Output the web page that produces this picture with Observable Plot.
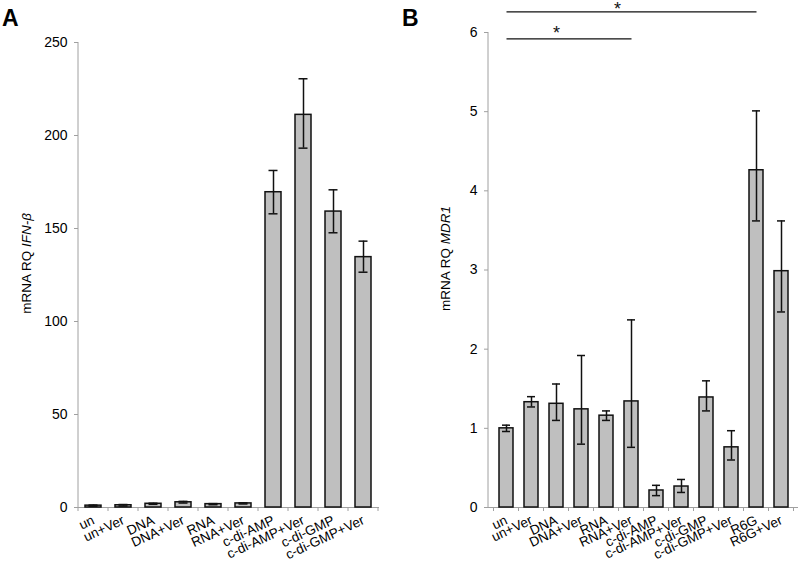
<!DOCTYPE html>
<html><head><meta charset="utf-8">
<script src="https://cdn.jsdelivr.net/npm/d3@7"></script>
<script src="https://cdn.jsdelivr.net/npm/@observablehq/plot@0.6"></script>
<style>
body{margin:0;background:#fff;}
#wrap{position:relative;width:800px;height:572px;overflow:hidden;}
#wrap svg{position:absolute;top:0;}
</style></head><body><div id="wrap"></div>
<script>
const FONT = '"Liberation Sans", Arial, sans-serif';

// Panel A: IFN-beta
const catsA = ["un","un+Ver","DNA","DNA+Ver","RNA","RNA+Ver","c-di-AMP","c-di-AMP+Ver","c-di-GMP","c-di-GMP+Ver"];
const valA  = [1.0, 1.2, 2.0, 2.8, 1.8, 2.2, 169.5, 211.1, 159.1, 134.6];
const loA   = [0.7, 0.8, 1.7, 2.4, 1.5, 1.9, 157.9, 193.2, 147.7, 126.5];
const hiA   = [1.3, 1.6, 2.3, 3.3, 2.1, 2.5, 181.2, 230.5, 170.8, 143.2];
const ticksA = [0, 50, 100, 150, 200, 250];

// Panel B: MDR1
const catsB = ["un","un+Ver","DNA","DNA+Ver","RNA","RNA+Ver","c-di-AMP","c-di-AMP+Ver","c-di-GMP","c-di-GMP+Ver","R6G","R6G+Ver"];
const valB  = [1.0, 1.33, 1.31, 1.24, 1.16, 1.34, 0.215, 0.265, 1.39, 0.76, 4.26, 2.985];
const loB   = [0.96, 1.27, 1.10, 0.80, 1.10, 0.76, 0.15, 0.19, 1.22, 0.60, 3.62, 2.47];
const hiB   = [1.04, 1.40, 1.56, 1.92, 1.22, 2.37, 0.28, 0.354, 1.60, 0.97, 5.01, 3.62];
const ticksB = [0, 1, 2, 3, 4, 5, 6];

// significance annotations (panel B)
const sigFrom = ["un", "un"];
const sigTo   = ["R6G", "RNA+Ver"];
const sigLevel = [6.26, 5.92];
const sigStarAt = ["RNA", "DNA"];
const sigText = ["*", "*"];

const dataA = catsA.map((c, i) => ({cat: c, v: valA[i], lo: loA[i], hi: hiA[i]}));
const dataB = catsB.map((c, i) => ({cat: c, v: valB[i], lo: loB[i], hi: hiB[i]}));
const sigData = sigFrom.map((f, i) => ({from: f, to: sigTo[i], y: sigLevel[i], star: sigStarAt[i], t: sigText[i]}));

function barMarks(data, capInset, yticks) {
  return [
    Plot.axisY({ticks: yticks, tickFormat: d => String(d), label: null, tickSize: 4, tickPadding: 7,
                fontSize: 14, stroke: "#a0a0a0", fill: "#000"}),
    Plot.axisX({label: null, tickSize: 0, tickRotate: -25, tickPadding: 12, fontSize: 13.5, fill: "#000"}),
    Plot.ruleY([0], {stroke: "#a0a0a0", strokeWidth: 1}),
    Plot.barY(data, {x: "cat", y: "v", fill: "#bfbfbf", stroke: "#111", strokeWidth: 1.5}),
    Plot.ruleX(data, {x: "cat", y1: "lo", y2: "hi", stroke: "#111", strokeWidth: 1.5}),
    Plot.tickY(data, {x: "cat", y: "lo", stroke: "#111", strokeWidth: 1.5, insetLeft: capInset, insetRight: capInset}),
    Plot.tickY(data, {x: "cat", y: "hi", stroke: "#111", strokeWidth: 1.5, insetLeft: capInset, insetRight: capInset})
  ];
}

function common(w, ml, mr, mt, mb, cats, ydom) {
  return {
    width: w, height: 572,
    marginLeft: ml, marginRight: mr, marginTop: mt, marginBottom: mb,
    style: {fontFamily: FONT, color: "#000", background: "transparent", overflow: "visible"},
    x: {domain: cats, paddingInner: 0.46, paddingOuter: 0.23},
    y: {domain: ydom}
  };
}

const plotA = Plot.plot({
  ...common(400, 78, 21, 42, 65, catsA, [0, 250]),
  marks: barMarks(dataA, 3.5, ticksA)
});

const plotB = Plot.plot({
  ...common(400, 88, 2, 32, 65, catsB, [0, 6]),
  marks: [
    ...barMarks(dataB, 3, ticksB),
    Plot.link(sigData, {x1: "from", x2: "to", y1: "y", y2: "y", stroke: "#111", strokeWidth: 1.3}),
    Plot.text(sigData.slice(0, 1), {x: "star", y: "y", text: "t", fontSize: 18, dx: 11, dy: -3, fill: "#111"}),
    Plot.text(sigData.slice(1, 2), {x: "star", y: "y", text: "t", fontSize: 18, dy: -6, fill: "#111"})
  ]
});

const wrap = document.getElementById("wrap");
plotA.style.left = "0px";
plotB.style.left = "400px";
wrap.appendChild(plotA);
wrap.appendChild(plotB);

function decorate(plot, letter, pre, ital, labelX) {
  const svg = d3.select(plot);
  const sx = plot.scale("x"), sy = plot.scale("y");
  const gap = (sx.step - sx.bandwidth) / 2;
  const yBase = sy.apply(0);
  const bounds = sx.domain.map(c => sx.apply(c) - gap);
  bounds.push(sx.apply(sx.domain[sx.domain.length - 1]) + sx.bandwidth + gap);
  const g = svg.append("g").attr("stroke", "#a0a0a0").attr("stroke-width", 1);
  // y axis line
  g.append("line").attr("x1", sx.range[0]).attr("x2", sx.range[0])
    .attr("y1", sy.range[0]).attr("y2", sy.range[1]);
  // x boundary ticks
  bounds.forEach(b => g.append("line").attr("x1", b).attr("x2", b).attr("y1", yBase).attr("y2", yBase + 4));
  // y axis title
  const yMid = (sy.range[0] + sy.range[1]) / 2 - 11;
  const t = svg.append("text")
    .attr("transform", `translate(${labelX},${yMid}) rotate(-90)`)
    .attr("text-anchor", "middle")
    .style("font-family", FONT).style("font-size", "13.5px").attr("fill", "#000");
  t.append("tspan").text(pre);
  t.append("tspan").attr("font-style", "italic").text(ital);
  // panel letter
  svg.append("text").attr("x", 2).attr("y", 26).attr("text-anchor", "start")
    .style("font-family", FONT).style("font-size", "23px").style("font-weight", "bold").attr("fill", "#000")
    .text(letter);
}
decorate(plotA, "A", "mRNA RQ ", "IFN-\u03b2", 31);
decorate(plotB, "B", "mRNA RQ ", "MDR1", 50);
</script>
</body></html>
